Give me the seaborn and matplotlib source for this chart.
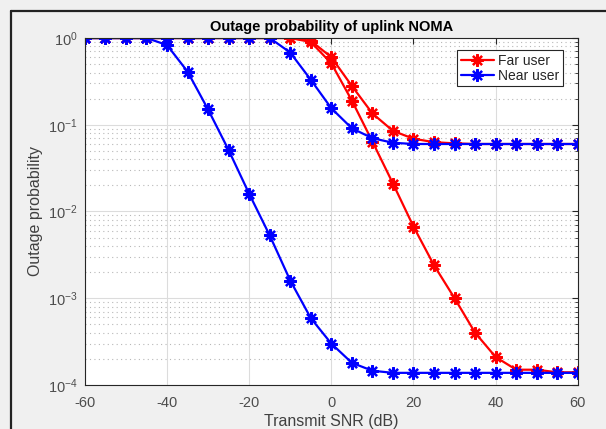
import numpy as np
import pandas as pd
import seaborn as sns
import matplotlib.pyplot as plt
from matplotlib.lines import Line2D
from matplotlib.ticker import LogLocator, NullFormatter

# data
snr = list(range(-60, 61, 5))

far_a = [1, 1, 1, 1, 1, 1, 1, 1, 1, 1, 1, 0.90, 0.51, 0.19, 0.064, 0.021, 0.0067,
         0.0024, 1.0e-3, 4.0e-4, 2.1e-4, 1.5e-4, 1.5e-4, 1.4e-4, 1.4e-4]
far_b = [1, 1, 1, 1, 1, 1, 1, 1, 1, 1, 1, 0.93, 0.60, 0.28, 0.135, 0.085, 0.069,
         0.063, 0.061, 0.06, 0.06, 0.06, 0.06, 0.06, 0.06]
near_a = [1, 1, 1, 1, 0.83, 0.41, 0.15, 0.051, 0.016, 0.0053, 0.0016, 5.9e-4,
          3.0e-4, 1.8e-4, 1.46e-4, 1.38e-4, 1.38e-4, 1.38e-4, 1.38e-4, 1.38e-4,
          1.38e-4, 1.38e-4, 1.38e-4, 1.38e-4, 1.38e-4]
near_b = [1, 1, 1, 1, 1, 1, 1, 1, 1, 1.0, 0.68, 0.33, 0.155, 0.091, 0.07, 0.062,
          0.06, 0.06, 0.06, 0.06, 0.06, 0.06, 0.06, 0.06, 0.06]

sns.set_style("white")
plt.rcParams['font.family'] = ['Liberation Sans', 'DejaVu Sans']
plt.rcParams['axes.unicode_minus'] = False
plt.rcParams['mathtext.fontset'] = 'custom'
plt.rcParams['mathtext.rm'] = 'Liberation Sans'
plt.rcParams['mathtext.it'] = 'Liberation Sans'

fig = plt.figure(figsize=(6.06, 4.29), dpi=100)
fig.patch.set_facecolor('#f0f0f0')
ax = fig.add_axes([0.140, 0.1026, 0.8135, 0.8088])
ax.set_facecolor('white')

mk = (8, 2, 0)
curves = [(far_a, 'red', 'Far user'), (far_b, 'red', None),
          (near_a, 'blue', 'Near user'), (near_b, 'blue', None)]
for vals, col, lab in curves:
    df = pd.DataFrame({'snr': snr, 'p': vals})
    sns.lineplot(data=df, x='snr', y='p', ax=ax, color=col, linewidth=1.6,
                 marker=mk, markersize=9, markeredgewidth=1.6,
                 markeredgecolor=col, label=lab, legend=False)

ax.set_yscale('log')
ax.set_xlim(-60, 60)
ax.set_ylim(1e-4, 1)
ax.set_xticks([-60, -40, -20, 0, 20, 40, 60])
ax.yaxis.set_major_locator(LogLocator(base=10, numticks=10))
ax.yaxis.set_minor_locator(LogLocator(base=10, subs=np.arange(2, 10), numticks=20))
ax.yaxis.set_minor_formatter(NullFormatter())

ax.grid(which='major', color='#dcdcdc', linewidth=0.8, linestyle='-')
ax.grid(which='minor', axis='y', color='#b8b8b8', linewidth=0.8, linestyle=(0, (1, 3)))
ax.set_axisbelow(True)

ax.tick_params(which='both', direction='in', top=True, right=True,
               colors='#262626', labelcolor='#4d4d4d', labelsize=10.5)
ax.tick_params(which='major', length=4)
ax.tick_params(which='minor', length=2)
ax.tick_params(axis='x', pad=8)
ax.tick_params(axis='y', pad=5)
for s in ax.spines.values():
    s.set_color('#262626')
    s.set_linewidth(0.8)

ax.set_title('Outage probability of uplink NOMA', fontsize=10.5,
             fontweight='bold', color='black', pad=5)
ax.set_xlabel('Transmit SNR (dB)', fontsize=11.5, color='#404040', labelpad=3)
ax.set_ylabel('Outage probability', fontsize=11.5, color='#404040', labelpad=4)

handles = [Line2D([], [], color='red', linewidth=1.6, marker=mk, markersize=9,
                  markeredgewidth=1.6, markeredgecolor='red'),
           Line2D([], [], color='blue', linewidth=1.6, marker=mk, markersize=9,
                  markeredgewidth=1.6, markeredgecolor='blue')]
leg = ax.legend(handles, ['Far user', 'Near user'], loc='upper right',
                bbox_to_anchor=(0.97, 0.965), borderaxespad=0, fancybox=False,
                framealpha=1, edgecolor='#262626', fontsize=10, handlelength=2.4,
                borderpad=0.25, labelspacing=0.1, handletextpad=0.3)
leg.get_frame().set_linewidth(0.8)

# window frame from the screenshot
fig.add_artist(Line2D([11 / 606, 11 / 606], [0, 1 - 11 / 429],
                      transform=fig.transFigure, color='#222222', linewidth=1.6))
fig.add_artist(Line2D([11 / 606, 1], [1 - 11 / 429, 1 - 11 / 429],
                      transform=fig.transFigure, color='#222222', linewidth=1.6))

fig.savefig('out.png', dpi=100, facecolor=fig.get_facecolor())
